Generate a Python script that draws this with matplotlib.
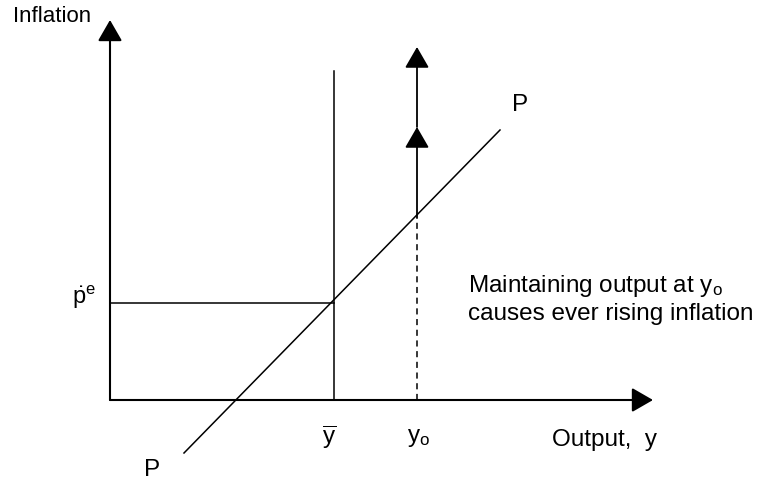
import matplotlib
matplotlib.use('Agg')
import matplotlib.pyplot as plt
from matplotlib.patches import FancyArrowPatch

plt.rcParams['font.family'] = ['Liberation Sans', 'DejaVu Sans']
plt.rcParams['mathtext.fontset'] = 'custom'
plt.rcParams['mathtext.rm'] = 'Liberation Sans'
plt.rcParams['mathtext.it'] = 'Liberation Sans'

# diagram data (origin where the axes cross)
x_axis_end = 543
y_axis_end = 380
y_bar = 224
y_o = 307
p_e = 97
y_bar_top = 329
P_x = [74, 390]
P_y = [-53, 270]
y_o_on_P = 182
y_o_mid_tip = 273
y_o_top = 353

x_label = 'Output,  y'
y_label = 'Inflation'
note = 'Maintaining output at $\\mathrm{y_o}$\ncauses ever rising inflation'

fig = plt.figure(figsize=(7.67, 4.82), dpi=100)
ax = fig.add_axes([0, 0, 1, 1])
ax.set_xlim(-110, 657)
ax.set_ylim(-82, 400)
ax.axis('off')


def arrow(x0, y0, x1, y1, lw):
    a = FancyArrowPatch((x0, y0), (x1, y1),
                        arrowstyle='-|>,head_length=13,head_width=7.5',
                        mutation_scale=1, lw=lw, color='black',
                        shrinkA=0, shrinkB=0)
    ax.add_patch(a)


# axes
arrow(0, 0, x_axis_end, 0, 1.5)
arrow(0, 0, 0, y_axis_end, 1.5)

# p^e level and y-bar
ax.plot([0, y_bar], [p_e, p_e], color='black', lw=1.1)
ax.plot([y_bar, y_bar], [0, y_bar_top], color='black', lw=1.1)

# P line
ax.plot(P_x, P_y, color='black', lw=1.1)

# y_o: dashed up to P, then ever rising arrows
ax.plot([y_o, y_o], [0, y_o_on_P], color='black', lw=1.1, ls=(0, (4, 3)))
arrow(y_o, y_o_on_P, y_o, y_o_mid_tip, 1.3)
arrow(y_o, y_o_mid_tip, y_o, y_o_top, 1.3)

fs = 17.5
ax.text(-97, 383, y_label, fontsize=16, va='center', ha='left')
ax.text(-38, 103, '$\\dot{\\mathrm{p}}^{\\mathrm{e}}$', fontsize=17, va='center', ha='left')
ax.text(P_x[1] + 12, 295, 'P', fontsize=fs, va='center', ha='left')
ax.text(P_x[0] - 40, -70, 'P', fontsize=fs, va='center', ha='left')
ax.text(y_bar - 5, -37, '$\\overline{\\mathrm{y}}$', fontsize=fs, va='center', ha='center')
ax.text(y_o - 10, -38, '$\\mathrm{y_o}$', fontsize=fs, va='center', ha='left')
ax.text(x_axis_end + 4, -40, x_label, fontsize=fs, va='center', ha='right')
ax.text(358, 101, note, fontsize=fs, va='center', ha='left', linespacing=1.25)

fig.savefig('out.png', dpi=100)
